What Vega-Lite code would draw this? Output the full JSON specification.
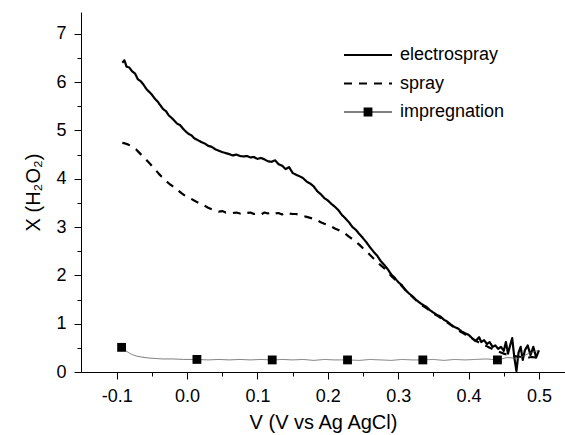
{
  "$schema": "https://vega.github.io/schema/vega-lite/v6.json",
  "width": 484,
  "height": 360,
  "autosize": {"type": "none"},
  "padding": {"left": 81, "top": 12, "right": 0, "bottom": 63},
  "background": "white",
  "config": {
    "view": {"stroke": null},
    "font": "Liberation Sans",
    "axis": {
      "grid": false,
      "domainColor": "#000000",
      "tickColor": "#000000",
      "labelColor": "#000000",
      "titleColor": "#000000",
      "labelFont": "Liberation Sans",
      "titleFont": "Liberation Sans",
      "labelFontSize": 18,
      "titleFontSize": 20,
      "titleFontWeight": "normal",
      "domainWidth": 1,
      "tickWidth": 1
    },
    "legend": {
      "title": null, "orient": "none", "legendX": 277.5, "legendY": 33.5,
      "symbolSize": 256, "labelFontSize": 18, "labelFont": "Liberation Sans", "labelColor": "#000000",
      "labelOffset": 22.5, "rowPadding": 9.5, "padding": 0
    }
  },
  "datasets": {
    "curves": [
      {"series": "electrospray", "V": -0.092, "X": 6.40},
      {"series": "electrospray", "V": -0.089, "X": 6.45},
      {"series": "electrospray", "V": -0.086, "X": 6.32},
      {"series": "electrospray", "V": -0.082, "X": 6.30},
      {"series": "electrospray", "V": -0.078, "X": 6.22},
      {"series": "electrospray", "V": -0.074, "X": 6.18},
      {"series": "electrospray", "V": -0.070, "X": 6.06},
      {"series": "electrospray", "V": -0.066, "X": 6.02},
      {"series": "electrospray", "V": -0.062, "X": 5.95},
      {"series": "electrospray", "V": -0.058, "X": 5.86},
      {"series": "electrospray", "V": -0.054, "X": 5.80},
      {"series": "electrospray", "V": -0.050, "X": 5.74},
      {"series": "electrospray", "V": -0.046, "X": 5.66},
      {"series": "electrospray", "V": -0.042, "X": 5.60},
      {"series": "electrospray", "V": -0.038, "X": 5.52},
      {"series": "electrospray", "V": -0.034, "X": 5.44},
      {"series": "electrospray", "V": -0.030, "X": 5.40},
      {"series": "electrospray", "V": -0.026, "X": 5.31},
      {"series": "electrospray", "V": -0.022, "X": 5.26},
      {"series": "electrospray", "V": -0.018, "X": 5.20},
      {"series": "electrospray", "V": -0.014, "X": 5.14},
      {"series": "electrospray", "V": -0.010, "X": 5.11},
      {"series": "electrospray", "V": -0.006, "X": 5.04},
      {"series": "electrospray", "V": -0.002, "X": 4.98},
      {"series": "electrospray", "V": 0.002, "X": 4.93},
      {"series": "electrospray", "V": 0.006, "X": 4.90},
      {"series": "electrospray", "V": 0.010, "X": 4.84},
      {"series": "electrospray", "V": 0.015, "X": 4.80},
      {"series": "electrospray", "V": 0.020, "X": 4.76},
      {"series": "electrospray", "V": 0.025, "X": 4.73},
      {"series": "electrospray", "V": 0.030, "X": 4.68},
      {"series": "electrospray", "V": 0.035, "X": 4.66},
      {"series": "electrospray", "V": 0.040, "X": 4.61},
      {"series": "electrospray", "V": 0.045, "X": 4.58},
      {"series": "electrospray", "V": 0.050, "X": 4.55},
      {"series": "electrospray", "V": 0.055, "X": 4.53},
      {"series": "electrospray", "V": 0.060, "X": 4.51},
      {"series": "electrospray", "V": 0.065, "X": 4.48},
      {"series": "electrospray", "V": 0.070, "X": 4.50},
      {"series": "electrospray", "V": 0.075, "X": 4.47},
      {"series": "electrospray", "V": 0.080, "X": 4.46},
      {"series": "electrospray", "V": 0.085, "X": 4.47},
      {"series": "electrospray", "V": 0.090, "X": 4.44},
      {"series": "electrospray", "V": 0.095, "X": 4.45},
      {"series": "electrospray", "V": 0.100, "X": 4.41},
      {"series": "electrospray", "V": 0.105, "X": 4.43},
      {"series": "electrospray", "V": 0.110, "X": 4.40},
      {"series": "electrospray", "V": 0.115, "X": 4.36},
      {"series": "electrospray", "V": 0.120, "X": 4.35},
      {"series": "electrospray", "V": 0.125, "X": 4.38},
      {"series": "electrospray", "V": 0.130, "X": 4.30},
      {"series": "electrospray", "V": 0.135, "X": 4.27},
      {"series": "electrospray", "V": 0.140, "X": 4.20},
      {"series": "electrospray", "V": 0.145, "X": 4.24},
      {"series": "electrospray", "V": 0.150, "X": 4.12},
      {"series": "electrospray", "V": 0.155, "X": 4.08},
      {"series": "electrospray", "V": 0.160, "X": 4.05},
      {"series": "electrospray", "V": 0.165, "X": 4.01},
      {"series": "electrospray", "V": 0.170, "X": 3.94},
      {"series": "electrospray", "V": 0.175, "X": 3.90},
      {"series": "electrospray", "V": 0.180, "X": 3.84},
      {"series": "electrospray", "V": 0.185, "X": 3.74},
      {"series": "electrospray", "V": 0.190, "X": 3.68},
      {"series": "electrospray", "V": 0.195, "X": 3.60},
      {"series": "electrospray", "V": 0.200, "X": 3.55},
      {"series": "electrospray", "V": 0.205, "X": 3.48},
      {"series": "electrospray", "V": 0.210, "X": 3.42},
      {"series": "electrospray", "V": 0.215, "X": 3.35},
      {"series": "electrospray", "V": 0.220, "X": 3.25},
      {"series": "electrospray", "V": 0.225, "X": 3.18},
      {"series": "electrospray", "V": 0.230, "X": 3.10},
      {"series": "electrospray", "V": 0.235, "X": 3.00},
      {"series": "electrospray", "V": 0.240, "X": 2.94},
      {"series": "electrospray", "V": 0.245, "X": 2.85},
      {"series": "electrospray", "V": 0.250, "X": 2.77},
      {"series": "electrospray", "V": 0.255, "X": 2.68},
      {"series": "electrospray", "V": 0.260, "X": 2.58},
      {"series": "electrospray", "V": 0.265, "X": 2.49},
      {"series": "electrospray", "V": 0.270, "X": 2.41},
      {"series": "electrospray", "V": 0.275, "X": 2.30},
      {"series": "electrospray", "V": 0.280, "X": 2.22},
      {"series": "electrospray", "V": 0.285, "X": 2.13},
      {"series": "electrospray", "V": 0.290, "X": 2.02},
      {"series": "electrospray", "V": 0.295, "X": 1.95},
      {"series": "electrospray", "V": 0.300, "X": 1.86},
      {"series": "electrospray", "V": 0.305, "X": 1.80},
      {"series": "electrospray", "V": 0.310, "X": 1.70},
      {"series": "electrospray", "V": 0.315, "X": 1.63},
      {"series": "electrospray", "V": 0.320, "X": 1.57},
      {"series": "electrospray", "V": 0.325, "X": 1.50},
      {"series": "electrospray", "V": 0.330, "X": 1.44},
      {"series": "electrospray", "V": 0.335, "X": 1.39},
      {"series": "electrospray", "V": 0.340, "X": 1.35},
      {"series": "electrospray", "V": 0.345, "X": 1.28},
      {"series": "electrospray", "V": 0.350, "X": 1.23},
      {"series": "electrospray", "V": 0.355, "X": 1.18},
      {"series": "electrospray", "V": 0.360, "X": 1.15},
      {"series": "electrospray", "V": 0.365, "X": 1.08},
      {"series": "electrospray", "V": 0.370, "X": 1.04},
      {"series": "electrospray", "V": 0.375, "X": 0.98},
      {"series": "electrospray", "V": 0.380, "X": 0.93},
      {"series": "electrospray", "V": 0.385, "X": 0.90},
      {"series": "electrospray", "V": 0.390, "X": 0.84},
      {"series": "electrospray", "V": 0.395, "X": 0.80},
      {"series": "electrospray", "V": 0.400, "X": 0.77},
      {"series": "electrospray", "V": 0.405, "X": 0.70},
      {"series": "electrospray", "V": 0.410, "X": 0.64},
      {"series": "electrospray", "V": 0.415, "X": 0.72},
      {"series": "electrospray", "V": 0.418, "X": 0.62},
      {"series": "electrospray", "V": 0.422, "X": 0.66},
      {"series": "electrospray", "V": 0.426, "X": 0.58},
      {"series": "electrospray", "V": 0.430, "X": 0.62},
      {"series": "electrospray", "V": 0.434, "X": 0.52},
      {"series": "electrospray", "V": 0.438, "X": 0.55},
      {"series": "electrospray", "V": 0.442, "X": 0.48},
      {"series": "electrospray", "V": 0.446, "X": 0.52},
      {"series": "electrospray", "V": 0.450, "X": 0.44},
      {"series": "electrospray", "V": 0.453, "X": 0.62},
      {"series": "electrospray", "V": 0.456, "X": 0.38},
      {"series": "electrospray", "V": 0.459, "X": 0.55},
      {"series": "electrospray", "V": 0.462, "X": 0.70},
      {"series": "electrospray", "V": 0.465, "X": 0.30},
      {"series": "electrospray", "V": 0.468, "X": 0.02},
      {"series": "electrospray", "V": 0.471, "X": 0.40},
      {"series": "electrospray", "V": 0.474, "X": 0.52},
      {"series": "electrospray", "V": 0.477, "X": 0.25},
      {"series": "electrospray", "V": 0.480, "X": 0.45},
      {"series": "electrospray", "V": 0.484, "X": 0.55},
      {"series": "electrospray", "V": 0.488, "X": 0.35},
      {"series": "electrospray", "V": 0.492, "X": 0.52},
      {"series": "electrospray", "V": 0.496, "X": 0.30},
      {"series": "electrospray", "V": 0.500, "X": 0.45},

      {"series": "spray", "V": -0.092, "X": 4.74},
      {"series": "spray", "V": -0.088, "X": 4.73},
      {"series": "spray", "V": -0.084, "X": 4.71},
      {"series": "spray", "V": -0.080, "X": 4.68},
      {"series": "spray", "V": -0.076, "X": 4.64},
      {"series": "spray", "V": -0.072, "X": 4.60},
      {"series": "spray", "V": -0.068, "X": 4.54},
      {"series": "spray", "V": -0.064, "X": 4.48},
      {"series": "spray", "V": -0.060, "X": 4.42},
      {"series": "spray", "V": -0.056, "X": 4.36},
      {"series": "spray", "V": -0.052, "X": 4.30},
      {"series": "spray", "V": -0.048, "X": 4.23},
      {"series": "spray", "V": -0.044, "X": 4.17},
      {"series": "spray", "V": -0.040, "X": 4.10},
      {"series": "spray", "V": -0.036, "X": 4.04},
      {"series": "spray", "V": -0.032, "X": 3.99},
      {"series": "spray", "V": -0.028, "X": 3.93},
      {"series": "spray", "V": -0.024, "X": 3.88},
      {"series": "spray", "V": -0.020, "X": 3.84},
      {"series": "spray", "V": -0.016, "X": 3.79},
      {"series": "spray", "V": -0.012, "X": 3.75},
      {"series": "spray", "V": -0.008, "X": 3.70},
      {"series": "spray", "V": -0.004, "X": 3.66},
      {"series": "spray", "V": 0.000, "X": 3.63},
      {"series": "spray", "V": 0.005, "X": 3.59},
      {"series": "spray", "V": 0.010, "X": 3.55},
      {"series": "spray", "V": 0.015, "X": 3.51},
      {"series": "spray", "V": 0.020, "X": 3.48},
      {"series": "spray", "V": 0.025, "X": 3.44},
      {"series": "spray", "V": 0.030, "X": 3.40},
      {"series": "spray", "V": 0.035, "X": 3.37},
      {"series": "spray", "V": 0.040, "X": 3.35},
      {"series": "spray", "V": 0.045, "X": 3.32},
      {"series": "spray", "V": 0.050, "X": 3.33},
      {"series": "spray", "V": 0.055, "X": 3.30},
      {"series": "spray", "V": 0.060, "X": 3.31},
      {"series": "spray", "V": 0.065, "X": 3.29},
      {"series": "spray", "V": 0.070, "X": 3.30},
      {"series": "spray", "V": 0.075, "X": 3.28},
      {"series": "spray", "V": 0.080, "X": 3.31},
      {"series": "spray", "V": 0.085, "X": 3.29},
      {"series": "spray", "V": 0.090, "X": 3.30},
      {"series": "spray", "V": 0.095, "X": 3.27},
      {"series": "spray", "V": 0.100, "X": 3.28},
      {"series": "spray", "V": 0.105, "X": 3.26},
      {"series": "spray", "V": 0.110, "X": 3.30},
      {"series": "spray", "V": 0.115, "X": 3.28},
      {"series": "spray", "V": 0.120, "X": 3.31},
      {"series": "spray", "V": 0.125, "X": 3.28},
      {"series": "spray", "V": 0.130, "X": 3.29},
      {"series": "spray", "V": 0.135, "X": 3.26},
      {"series": "spray", "V": 0.140, "X": 3.30},
      {"series": "spray", "V": 0.145, "X": 3.28},
      {"series": "spray", "V": 0.150, "X": 3.27},
      {"series": "spray", "V": 0.155, "X": 3.27},
      {"series": "spray", "V": 0.160, "X": 3.25},
      {"series": "spray", "V": 0.165, "X": 3.23},
      {"series": "spray", "V": 0.170, "X": 3.21},
      {"series": "spray", "V": 0.175, "X": 3.19},
      {"series": "spray", "V": 0.180, "X": 3.17},
      {"series": "spray", "V": 0.185, "X": 3.14},
      {"series": "spray", "V": 0.190, "X": 3.10},
      {"series": "spray", "V": 0.195, "X": 3.07},
      {"series": "spray", "V": 0.200, "X": 3.04},
      {"series": "spray", "V": 0.205, "X": 3.01},
      {"series": "spray", "V": 0.210, "X": 2.97},
      {"series": "spray", "V": 0.215, "X": 2.94},
      {"series": "spray", "V": 0.220, "X": 2.90},
      {"series": "spray", "V": 0.225, "X": 2.86},
      {"series": "spray", "V": 0.230, "X": 2.80},
      {"series": "spray", "V": 0.235, "X": 2.75},
      {"series": "spray", "V": 0.240, "X": 2.70},
      {"series": "spray", "V": 0.245, "X": 2.63},
      {"series": "spray", "V": 0.250, "X": 2.56},
      {"series": "spray", "V": 0.255, "X": 2.50},
      {"series": "spray", "V": 0.260, "X": 2.42},
      {"series": "spray", "V": 0.265, "X": 2.35},
      {"series": "spray", "V": 0.270, "X": 2.28},
      {"series": "spray", "V": 0.275, "X": 2.21},
      {"series": "spray", "V": 0.280, "X": 2.15},
      {"series": "spray", "V": 0.285, "X": 2.07},
      {"series": "spray", "V": 0.290, "X": 1.99},
      {"series": "spray", "V": 0.295, "X": 1.92},
      {"series": "spray", "V": 0.300, "X": 1.85},
      {"series": "spray", "V": 0.305, "X": 1.78},
      {"series": "spray", "V": 0.310, "X": 1.70},
      {"series": "spray", "V": 0.315, "X": 1.62},
      {"series": "spray", "V": 0.320, "X": 1.56},
      {"series": "spray", "V": 0.325, "X": 1.49},
      {"series": "spray", "V": 0.330, "X": 1.42},
      {"series": "spray", "V": 0.335, "X": 1.37},
      {"series": "spray", "V": 0.340, "X": 1.32},
      {"series": "spray", "V": 0.345, "X": 1.27},
      {"series": "spray", "V": 0.350, "X": 1.21},
      {"series": "spray", "V": 0.355, "X": 1.17},
      {"series": "spray", "V": 0.360, "X": 1.12},
      {"series": "spray", "V": 0.365, "X": 1.07},
      {"series": "spray", "V": 0.370, "X": 1.02},
      {"series": "spray", "V": 0.375, "X": 0.97},
      {"series": "spray", "V": 0.380, "X": 0.92},
      {"series": "spray", "V": 0.385, "X": 0.87},
      {"series": "spray", "V": 0.390, "X": 0.82},
      {"series": "spray", "V": 0.395, "X": 0.78},
      {"series": "spray", "V": 0.400, "X": 0.73},
      {"series": "spray", "V": 0.405, "X": 0.69},
      {"series": "spray", "V": 0.410, "X": 0.65},
      {"series": "spray", "V": 0.415, "X": 0.61},
      {"series": "spray", "V": 0.420, "X": 0.57},
      {"series": "spray", "V": 0.425, "X": 0.54},
      {"series": "spray", "V": 0.430, "X": 0.50},
      {"series": "spray", "V": 0.435, "X": 0.47},
      {"series": "spray", "V": 0.440, "X": 0.44},
      {"series": "spray", "V": 0.445, "X": 0.41},
      {"series": "spray", "V": 0.450, "X": 0.38},
      {"series": "spray", "V": 0.455, "X": 0.36},
      {"series": "spray", "V": 0.460, "X": 0.34},
      {"series": "spray", "V": 0.465, "X": 0.33},
      {"series": "spray", "V": 0.470, "X": 0.32},
      {"series": "spray", "V": 0.475, "X": 0.31},
      {"series": "spray", "V": 0.480, "X": 0.31},
      {"series": "spray", "V": 0.485, "X": 0.30},
      {"series": "spray", "V": 0.490, "X": 0.31},
      {"series": "spray", "V": 0.495, "X": 0.30},
      {"series": "spray", "V": 0.500, "X": 0.31},

      {"series": "impregnation", "V": -0.093, "X": 0.51},
      {"series": "impregnation", "V": -0.088, "X": 0.45},
      {"series": "impregnation", "V": -0.083, "X": 0.40},
      {"series": "impregnation", "V": -0.078, "X": 0.36},
      {"series": "impregnation", "V": -0.072, "X": 0.33},
      {"series": "impregnation", "V": -0.065, "X": 0.31},
      {"series": "impregnation", "V": -0.055, "X": 0.29},
      {"series": "impregnation", "V": -0.045, "X": 0.28},
      {"series": "impregnation", "V": -0.035, "X": 0.27},
      {"series": "impregnation", "V": -0.020, "X": 0.27},
      {"series": "impregnation", "V": -0.005, "X": 0.26},
      {"series": "impregnation", "V": 0.014, "X": 0.26},
      {"series": "impregnation", "V": 0.030, "X": 0.25},
      {"series": "impregnation", "V": 0.045, "X": 0.26},
      {"series": "impregnation", "V": 0.060, "X": 0.25},
      {"series": "impregnation", "V": 0.075, "X": 0.26},
      {"series": "impregnation", "V": 0.090, "X": 0.25},
      {"series": "impregnation", "V": 0.105, "X": 0.26},
      {"series": "impregnation", "V": 0.121, "X": 0.25},
      {"series": "impregnation", "V": 0.135, "X": 0.26},
      {"series": "impregnation", "V": 0.150, "X": 0.25},
      {"series": "impregnation", "V": 0.165, "X": 0.26},
      {"series": "impregnation", "V": 0.180, "X": 0.24},
      {"series": "impregnation", "V": 0.195, "X": 0.26},
      {"series": "impregnation", "V": 0.210, "X": 0.25},
      {"series": "impregnation", "V": 0.228, "X": 0.25},
      {"series": "impregnation", "V": 0.245, "X": 0.24},
      {"series": "impregnation", "V": 0.260, "X": 0.26},
      {"series": "impregnation", "V": 0.275, "X": 0.25},
      {"series": "impregnation", "V": 0.290, "X": 0.24},
      {"series": "impregnation", "V": 0.305, "X": 0.26},
      {"series": "impregnation", "V": 0.320, "X": 0.25},
      {"series": "impregnation", "V": 0.335, "X": 0.25},
      {"series": "impregnation", "V": 0.350, "X": 0.26},
      {"series": "impregnation", "V": 0.365, "X": 0.24},
      {"series": "impregnation", "V": 0.380, "X": 0.26},
      {"series": "impregnation", "V": 0.395, "X": 0.25},
      {"series": "impregnation", "V": 0.410, "X": 0.26},
      {"series": "impregnation", "V": 0.425, "X": 0.27},
      {"series": "impregnation", "V": 0.441, "X": 0.25},
      {"series": "impregnation", "V": 0.455, "X": 0.30},
      {"series": "impregnation", "V": 0.470, "X": 0.28},
      {"series": "impregnation", "V": 0.485, "X": 0.38},
      {"series": "impregnation", "V": 0.500, "X": 0.45}
    ],
    "markers": [
      {"V": -0.093, "X": 0.51},
      {"V": 0.014, "X": 0.26},
      {"V": 0.121, "X": 0.25},
      {"V": 0.228, "X": 0.25},
      {"V": 0.335, "X": 0.25},
      {"V": 0.441, "X": 0.25}
    ]
  },
  "layer": [
    {
      "data": {"name": "curves"},
      "mark": {"type": "line", "clip": true, "strokeJoin": "round"},
      "encoding": {
        "x": {
          "field": "V", "type": "quantitative",
          "scale": {"domain": [-0.1507, 0.537], "nice": false, "zero": false},
          "axis": {
            "values": [-0.1, 0, 0.1, 0.2, 0.3, 0.4, 0.5],
            "labelExpr": "(datum.value < -0.0001 ? '-' : '') + format(abs(datum.value), '.1f')",
            "title": "V (V vs Ag AgCl)",
            "tickSize": 7, "labelPadding": 8, "titlePadding": 7, "labelFlush": false
          }
        },
        "y": {
          "field": "X", "type": "quantitative",
          "scale": {"domain": [0, 7.45], "nice": false, "zero": true},
          "axis": {
            "values": [0, 1, 2, 3, 4, 5, 6, 7],
            "format": "d",
            "title": "X (H₂O₂)",
            "tickSize": 7, "labelPadding": 8, "titlePadding": 12, "labelFlush": false
          }
        },
        "strokeDash": {
          "field": "series", "type": "nominal",
          "scale": {"domain": ["electrospray", "spray", "impregnation"], "range": [[1, 0], [8, 7], [1, 0]]},
          "legend": {
            "encode": {
              "symbols": {
                "update": {
                  "shape": {"signal": "datum.value === 'impregnation' ? 'M-3,-0.05L3,-0.05L3,0.05L-3,0.05ZM-0.55,-0.55L0.55,-0.55L0.55,0.55L-0.55,0.55Z' : 'M-3,0L3,0'"},
                  "fill": {"signal": "datum.value === 'impregnation' ? '#000000' : 'transparent'"},
                  "strokeOpacity": {"signal": "datum.value === 'impregnation' ? 0 : 1"},
                  "size": {"value": 256},
                  "strokeWidth": {"value": 2.2}
                }
              }
            }
          }
        },
        "color": {
          "field": "series", "type": "nominal",
          "scale": {"domain": ["electrospray", "spray", "impregnation"], "range": ["#000000", "#000000", "#555555"]},
          "legend": {
            "encode": {
              "symbols": {
                "update": {
                  "shape": {"signal": "datum.value === 'impregnation' ? 'M-3,-0.05L3,-0.05L3,0.05L-3,0.05ZM-0.55,-0.55L0.55,-0.55L0.55,0.55L-0.55,0.55Z' : 'M-3,0L3,0'"},
                  "fill": {"signal": "datum.value === 'impregnation' ? '#000000' : 'transparent'"},
                  "strokeOpacity": {"signal": "datum.value === 'impregnation' ? 0 : 1"},
                  "size": {"value": 256},
                  "strokeWidth": {"value": 2.2}
                }
              }
            }
          }
        },
        "size": {
          "condition": {"test": "datum.series === 'impregnation'", "value": 0.8},
          "value": 2.2
        }
      }
    },
    {
      "data": {"name": "markers"},
      "mark": {"type": "point", "shape": "square", "filled": true, "color": "#000000", "opacity": 1, "size": 78},
      "encoding": {
        "x": {
          "field": "V", "type": "quantitative",
          "axis": {
            "orient": "bottom", "values": [-0.05, 0.05, 0.15, 0.25, 0.35, 0.45],
            "labels": false, "title": null, "domain": false, "tickSize": 4
          }
        },
        "y": {
          "field": "X", "type": "quantitative",
          "axis": {
            "orient": "left", "values": [0.5, 1.5, 2.5, 3.5, 4.5, 5.5, 6.5],
            "labels": false, "title": null, "domain": false, "tickSize": 4
          }
        }
      }
    }
  ],
  "resolve": {"axis": {"x": "independent", "y": "independent"}}
}
